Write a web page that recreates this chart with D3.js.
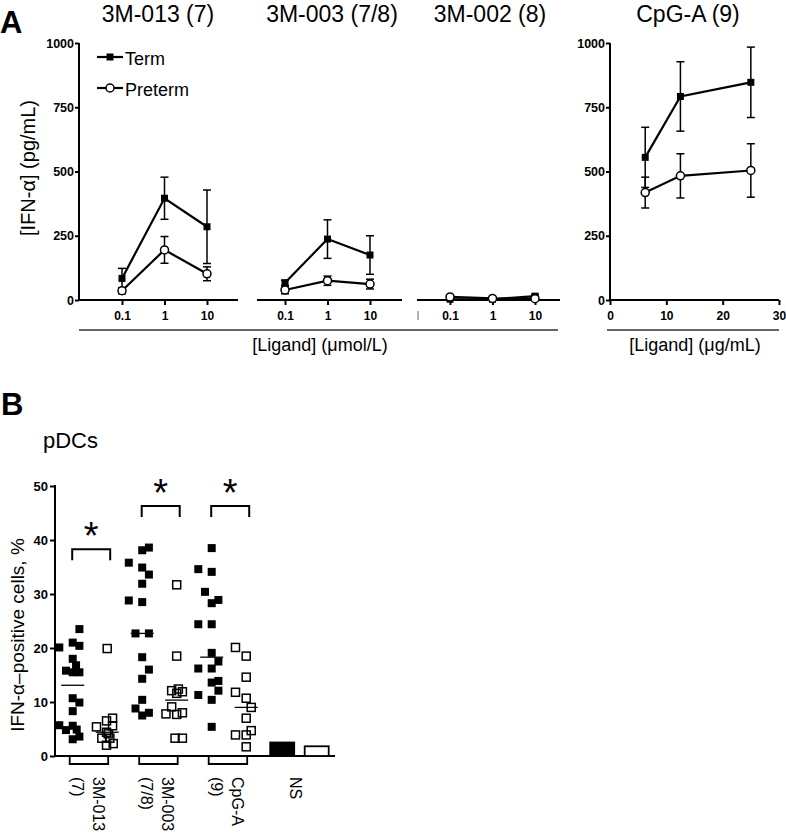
<!DOCTYPE html>
<html><head><meta charset="utf-8">
<script src="https://cdn.jsdelivr.net/npm/d3@7"></script>
<style>
html,body{margin:0;padding:0;background:#fff;}
svg{display:block;}
</style></head><body>
<svg id="chart" width="786" height="833"></svg>
<script>
// ================= DATA: Panel A =================
const doses = [0.1, 1, 10];
const doseLabels = ["0.1", "1", "10"];
const tlrTitles = ["3M-013 (7)", "3M-003 (7/8)", "3M-002 (8)"];
const term013 = [84, 396, 285];
const term013Sem = [39, 82, 143];
const preterm013 = [36, 195, 102];
const preterm013Sem = [12, 52, 27];
const term003 = [67, 237, 175];
const term003Sem = [10, 75, 75];
const preterm003 = [39, 75, 62];
const preterm003Sem = [15, 18, 19];
const term002 = [3, 3, 15];
const term002Sem = [2, 2, 6];
const preterm002 = [12, 6, 5];
const preterm002Sem = [3, 2, 2];
const cpgTitle = "CpG-A (9)";
const cpgDoses = [6.25, 12.5, 25];
const termCpg = [555, 792, 847];
const termCpgSem = [117, 135, 137];
const pretermCpg = [418, 483, 504];
const pretermCpgSem = [60, 86, 104];
const yTicksA = [0, 250, 500, 750, 1000];
const cpgTicks = [0, 10, 20, 30];
const legendLabels = ["Term", "Preterm"];
const yLabelA = "[IFN-\u03B1] (pg/mL)";
const xLabelMol = "[Ligand] (\u03BCmol/L)";
const xLabelMass = "[Ligand] (\u03BCg/mL)";

// ================= DATA: Panel B =================
const groupsB = ["3M-013", "3M-003", "CpG-A", "NS"];
const groupLabelsB = [["3M-013", "(7)"], ["3M-003", "(7/8)"], ["CpG-A", "(9)"], ["NS"]];
const termPct013 = [20.1, 23.5, 21.0, 20.4, 18.0, 16.8, 15.8, 15.5, 15.5, 10.7, 9.9, 8.3, 5.7, 5.6, 4.8, 4.9, 3.1, 3.6];
const termLane013 = [-2, 1, 0, 1, 0, 0.5, -1, 0, 1, 0, 1, 0, -2, 0, -1, 0.6, 0, 1];
const pretermPct013 = [19.9, 5.4, 6.5, 7.0, 5.6, 4.4, 4.1, 3.3, 3.3, 2.0, 2.3];
const pretermLane013 = [0, -1.6, -0.1, 0.8, 0.8, -0.1, 0.15, -0.8, 0.4, -0.1, 0.9];
const termPct003 = [35.8, 38.1, 38.6, 34.9, 33.6, 31.9, 28.8, 28.5, 22.7, 22.7, 18.3, 16.0, 14.3, 10.4, 8.8, 8.0, 7.5];
const termLane003 = [-2, 0, 1, 0, 1, 0, -2, 0, -1, 1, 0, 1, 0, 0, -1, 1, 0];
const pretermPct003 = [31.7, 18.5, 12.1, 12.4, 11.9, 11.6, 9.1, 7.8, 7.7, 8.0, 3.3, 3.3];
const pretermLane003 = [0, 0, -0.75, 0.25, 0.85, 0, -0.75, -1.6, 0, 0.85, -0.25, 0.85];
const termPctCpg = [38.5, 34.6, 34.1, 30.4, 28.3, 28.9, 24.4, 24.4, 19.1, 17.5, 16.2, 16.2, 13.6, 13.9, 12.1, 11.3, 10.4, 5.4];
const termLaneCpg = [0, -2, 0, -1, 0, 1, -2, 0, 0, 1, -2, 0, 0, 1, 1, -2, 0, 0];
const pretermPctCpg = [20.1, 18.5, 14.6, 11.8, 10.7, 9.0, 7.0, 4.7, 3.9, 3.9, 1.7];
const pretermLaneCpg = [-1.6, 0, 0, -1.6, 0, 0.75, 0, 0.75, -1.6, 0, 0];
const nsPct = [2.5, 1.8];
const yTicksB = [0, 10, 20, 30, 40, 50];
const bracketLevels = [38.3, 46.3, 46.3];
const sigMark = "*";
const yLabelB = "IFN-\u03B1\u2013positive cells, %";
const subtitleB = "pDCs";

// ================= DRAW =================
const FONT = "'Liberation Sans', Arial, Helvetica, sans-serif";
const svg = d3.select("#chart");
svg.append("rect").attr("width", 786).attr("height", 833).attr("fill", "#fff");

function styleAxis(g, size, bold) {
  g.attr("font-family", FONT);
  g.selectAll(".tick line").attr("stroke", "#000").attr("stroke-width", 2);
  g.selectAll(".tick text").attr("font-size", size).attr("font-weight", bold ? "bold" : "normal").attr("fill", "#000");
  g.select(".domain").remove();
}

svg.append("text").attr("x", 0).attr("y", 33).attr("font-family", FONT).attr("font-weight", "bold")
  .attr("font-size", 31).text("A");

const yA = d3.scaleLinear().domain([0, 1000]).range([300, 43]);

function drawSeries(g, x, xs, means, sems, kind) {
  const pts = xs.map((d, i) => ({ d, v: means[i], s: sems[i] }));
  const eb = g.append("g").attr("stroke", "#000").attr("stroke-width", 1.5);
  pts.forEach(p => {
    eb.append("line").attr("x1", x(p.d)).attr("x2", x(p.d)).attr("y1", yA(p.v - p.s)).attr("y2", yA(p.v + p.s));
    [p.v - p.s, p.v + p.s].forEach(e => {
      eb.append("line").attr("x1", x(p.d) - 4).attr("x2", x(p.d) + 4).attr("y1", yA(e)).attr("y2", yA(e));
    });
  });
  g.append("path").datum(pts).attr("fill", "none").attr("stroke", "#000").attr("stroke-width", 2.2)
    .attr("d", d3.line().x(p => x(p.d)).y(p => yA(p.v)));
  if (kind === "term") {
    g.selectAll(null).data(pts).enter().append("rect")
      .attr("x", p => x(p.d) - 3.5).attr("y", p => yA(p.v) - 3.5).attr("width", 7).attr("height", 7).attr("fill", "#000");
  } else {
    g.selectAll(null).data(pts).enter().append("circle")
      .attr("cx", p => x(p.d)).attr("cy", p => yA(p.v)).attr("r", 4)
      .attr("fill", "#fff").attr("stroke", "#000").attr("stroke-width", 1.5);
  }
}

const tlrPanels = [
  { title: tlrTitles[0], term: term013, termSem: term013Sem, pre: preterm013, preSem: preterm013Sem, x0: 122, axis: [79, 238], tx: 158 },
  { title: tlrTitles[1], term: term003, termSem: term003Sem, pre: preterm003, preSem: preterm003Sem, x0: 285, axis: [257, 402], tx: 332 },
  { title: tlrTitles[2], term: term002, termSem: term002Sem, pre: preterm002, preSem: preterm002Sem, x0: 450, axis: [417, 560], tx: 490 }
];

tlrPanels.forEach((p, i) => {
  const x = d3.scaleLog().domain([0.1, 10]).range([p.x0, p.x0 + 85]);
  const g = svg.append("g");
  g.append("text").attr("x", p.tx).attr("y", 22).attr("text-anchor", "middle").attr("font-family", FONT)
    .attr("font-size", 23).text(p.title);
  g.append("line").attr("x1", p.axis[0]).attr("x2", p.axis[1]).attr("y1", 300).attr("y2", 300)
    .attr("stroke", "#000").attr("stroke-width", 2);
  const ax = g.append("g").attr("transform", "translate(0,300)")
    .call(d3.axisBottom(x).tickValues(doses).tickFormat((d, k) => doseLabels[k]).tickSize(5).tickPadding(6));
  styleAxis(ax, 12, true);
  drawSeries(g, x, doses, p.term, p.termSem, "term");
  drawSeries(g, x, doses, p.pre, p.preSem, "pre");
});
svg.append("line").attr("x1", 418).attr("x2", 418).attr("y1", 311).attr("y2", 320).attr("stroke", "#666").attr("stroke-width", 1);

svg.append("line").attr("x1", 79).attr("x2", 79).attr("y1", 43).attr("y2", 301).attr("stroke", "#000").attr("stroke-width", 2);
const yAxA = svg.append("g").attr("transform", "translate(79,0)")
  .call(d3.axisLeft(yA).tickValues(yTicksA).tickFormat(d3.format("d")).tickSize(4).tickPadding(1));
styleAxis(yAxA, 12.5, true);
svg.append("text").attr("transform", "translate(35,168) rotate(-90)").attr("text-anchor", "middle")
  .attr("font-family", FONT).attr("font-size", 20).text(yLabelA);

const leg = svg.append("g");
legendLabels.forEach((lab, i) => {
  const ly = [57, 88][i];
  leg.append("line").attr("x1", 97).attr("x2", 123).attr("y1", ly).attr("y2", ly).attr("stroke", "#000").attr("stroke-width", 2.2);
  if (i === 0) leg.append("rect").attr("x", 106.5).attr("y", ly - 3.5).attr("width", 7).attr("height", 7).attr("fill", "#000");
  else leg.append("circle").attr("cx", 110).attr("cy", ly).attr("r", 4).attr("fill", "#fff").attr("stroke", "#000").attr("stroke-width", 1.5);
  leg.append("text").attr("x", 125).attr("y", ly + 8).attr("font-family", FONT).attr("font-size", 18).text(lab);
});

const xC = d3.scaleLinear().domain([0, 30]).range([610, 779]);
const gC = svg.append("g");
gC.append("text").attr("x", 688).attr("y", 22).attr("text-anchor", "middle").attr("font-family", FONT).attr("font-size", 23).text(cpgTitle);
gC.append("line").attr("x1", 610).attr("x2", 610).attr("y1", 43).attr("y2", 301).attr("stroke", "#000").attr("stroke-width", 2);
gC.append("line").attr("x1", 609).attr("x2", 779).attr("y1", 300).attr("y2", 300).attr("stroke", "#000").attr("stroke-width", 2);
const yAxC = gC.append("g").attr("transform", "translate(610,0)")
  .call(d3.axisLeft(yA).tickValues(yTicksA).tickFormat(d3.format("d")).tickSize(4).tickPadding(1));
styleAxis(yAxC, 12.5, true);
const xAxC = gC.append("g").attr("transform", "translate(0,300)").call(d3.axisBottom(xC).tickValues(cpgTicks).tickSize(5).tickPadding(6));
styleAxis(xAxC, 12, true);
drawSeries(gC, xC, cpgDoses, termCpg, termCpgSem, "term");
drawSeries(gC, xC, cpgDoses, pretermCpg, pretermCpgSem, "pre");

svg.append("line").attr("x1", 79).attr("x2", 558).attr("y1", 330).attr("y2", 330).attr("stroke", "#333").attr("stroke-width", 1.5);
svg.append("line").attr("x1", 607).attr("x2", 779).attr("y1", 330).attr("y2", 330).attr("stroke", "#333").attr("stroke-width", 1.5);
svg.append("text").attr("x", 320).attr("y", 351).attr("text-anchor", "middle").attr("font-family", FONT).attr("font-size", 18).text(xLabelMol);
svg.append("text").attr("x", 695).attr("y", 351).attr("text-anchor", "middle").attr("font-family", FONT).attr("font-size", 18).text(xLabelMass);

// ================= Panel B =================
svg.append("text").attr("x", 1).attr("y", 415).attr("font-family", FONT).attr("font-weight", "bold").attr("font-size", 31).text("B");
svg.append("text").attr("x", 43).attr("y", 448).attr("font-family", FONT).attr("font-size", 22).text(subtitleB);

const yB = d3.scaleLinear().domain([0, 50]).range([756, 486]);
const xB = d3.scaleBand().domain(groupsB).range([56, 334]);
const xSub = d3.scalePoint().domain(["Term", "Preterm"]).range([16.7, 51.2]);
const lane = d3.scaleLinear().domain([-1, 1]).range([-6.7, 6.7]);
const cx = (grp, sub) => xB(grp) + xSub(sub);

svg.append("line").attr("x1", 55).attr("x2", 55).attr("y1", 485).attr("y2", 757).attr("stroke", "#000").attr("stroke-width", 2);
svg.append("line").attr("x1", 54).attr("x2", 335).attr("y1", 756).attr("y2", 756).attr("stroke", "#000").attr("stroke-width", 2);
const yAxB = svg.append("g").attr("transform", "translate(55,0)").call(d3.axisLeft(yB).tickValues(yTicksB).tickSize(5).tickPadding(2));
styleAxis(yAxB, 13, true);
svg.append("text").attr("transform", "translate(24,635) rotate(-90)").attr("text-anchor", "middle")
  .attr("font-family", FONT).attr("font-size", 19).text(yLabelB);

const scatterSets = [
  { grp: groupsB[0], sub: "Term", vals: termPct013, lanes: termLane013 },
  { grp: groupsB[0], sub: "Preterm", vals: pretermPct013, lanes: pretermLane013 },
  { grp: groupsB[1], sub: "Term", vals: termPct003, lanes: termLane003 },
  { grp: groupsB[1], sub: "Preterm", vals: pretermPct003, lanes: pretermLane003 },
  { grp: groupsB[2], sub: "Term", vals: termPctCpg, lanes: termLaneCpg },
  { grp: groupsB[2], sub: "Preterm", vals: pretermPctCpg, lanes: pretermLaneCpg }
];

const gB = svg.append("g");
scatterSets.forEach(s => {
  const c = cx(s.grp, s.sub);
  const pts = s.vals.map((v, i) => ({ v, l: s.lanes[i] }));
  const filled = s.sub === "Term";
  gB.selectAll(null).data(pts).enter().append("rect")
    .attr("x", p => c + lane(p.l) - 4).attr("y", p => yB(p.v) - 4).attr("width", 8).attr("height", 8)
    .attr("fill", filled ? "#000" : "none").attr("stroke", filled ? "none" : "#000").attr("stroke-width", 1.5);
  const med = d3.median(s.vals);
  gB.append("line").attr("x1", c - 11.5).attr("x2", c + 11.5).attr("y1", yB(med)).attr("y2", yB(med))
    .attr("stroke", "#000").attr("stroke-width", 1.3);
});

groupsB.slice(0, 3).forEach(grp => {
  const x1 = cx(grp, "Term") - 3, x2 = cx(grp, "Preterm") + 1;
  svg.append("path").attr("d", `M${x1},756V764H${x2}V756`).attr("fill", "none").attr("stroke", "#000").attr("stroke-width", 1.8);
});

["Term", "Preterm"].forEach((sub, i) => {
  const c = cx(groupsB[3], sub) + 1;
  gB.append("rect").attr("x", c - 12).attr("y", yB(nsPct[i])).attr("width", 24).attr("height", yB(0) - yB(nsPct[i]))
    .attr("fill", i === 0 ? "#000" : "#fff").attr("stroke", "#000").attr("stroke-width", 1.8);
});

groupsB.slice(0, 3).forEach((grp, i) => {
  const x1 = cx(grp, "Term") - 0.5, x2 = cx(grp, "Preterm") + 3;
  const yb = yB(bracketLevels[i]);
  svg.append("path").attr("d", `M${x1},${yb + 11}V${yb}H${x2}V${yb + 11}`).attr("fill", "none").attr("stroke", "#000").attr("stroke-width", 2);
  svg.append("text").attr("x", (x1 + x2) / 2).attr("y", yb).attr("text-anchor", "middle")
    .attr("font-family", FONT).attr("font-size", 38).text(sigMark);
});

groupsB.forEach((grp, i) => {
  const lines = groupLabelsB[i];
  const c = xB(grp) + xB.bandwidth() / 2 - 3;
  const t = svg.append("text").attr("transform", `translate(${c},777) rotate(90)`).attr("font-family", FONT).attr("font-size", 16);
  if (lines.length === 2) {
    t.append("tspan").attr("x", 0).attr("y", -5).text(lines[0]);
    t.append("tspan").attr("x", 0).attr("y", 16).text(lines[1]);
  } else {
    t.append("tspan").attr("x", 0).attr("y", 6).text(lines[0]);
  }
});
</script>
</body></html>
